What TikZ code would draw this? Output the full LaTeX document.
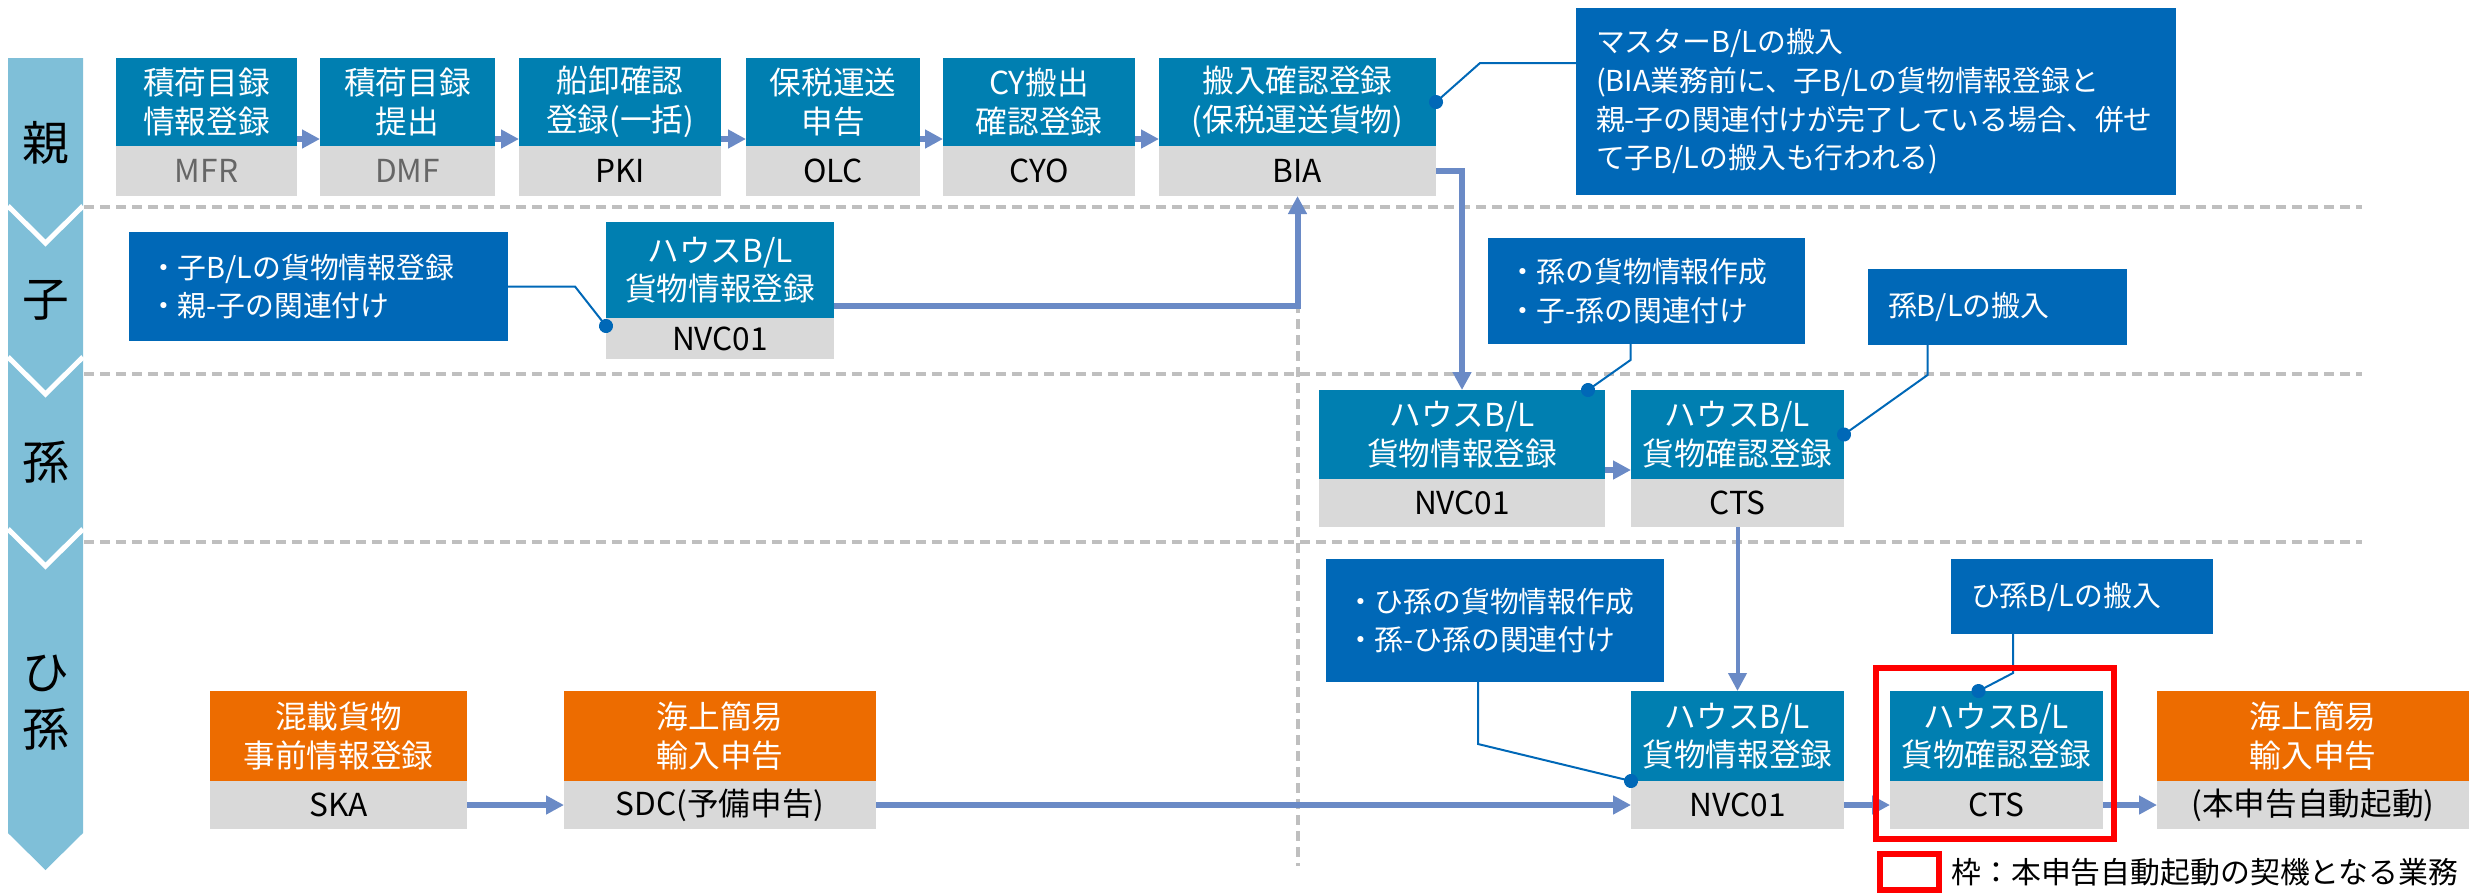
\documentclass[tikz,border=0pt]{standalone}
\usepackage{fontspec}
\setmainfont{Noto Sans CJK JP}
\usetikzlibrary{positioning, arrows.meta}
\exhyphenpenalty=10000
\hyphenpenalty=10000

\definecolor{bizblue}{RGB}{0,127,177}
\definecolor{memoblue}{RGB}{0,104,183}
\definecolor{codegray}{RGB}{217,217,217}
\definecolor{bizorange}{RGB}{237,108,0}
\definecolor{arrblue}{RGB}{106,138,198}
\definecolor{laneblue}{RGB}{127,191,216}
\definecolor{dashgray}{RGB}{191,191,191}

\tikzset{
    biz/.style={anchor=north west, fill=bizblue, text=white, inner sep=0pt, outer sep=0pt,
        align=center, minimum height=8.9mm, font=\fontsize{9}{11}\selectfont},
    ora/.style={biz, fill=bizorange},
    bizcode/.style={fill=codegray, text=black, inner sep=0pt, outer sep=0pt,
        minimum height=4.8mm, font=\fontsize{9}{11}\selectfont},
    memo/.style={anchor=north west, fill=memoblue, text=white, inner xsep=2mm, inner ysep=0pt,
        outer sep=0pt, align=left, font=\fontsize{8.2}{11}\selectfont},
    lane/.style={font=\fontsize{13.3}{16.2}\selectfont, align=center},
    arr/.style={draw=arrblue, line width=0.6mm, -{Triangle[length=1.8mm, width=1.8mm]}},
    lnk/.style={draw=memoblue, line width=0.2mm, -{Circle[length=1.4mm]}, shorten >=-0.7mm},
    lanesep/.style={draw=dashgray, line width=0.4mm, dash pattern=on 1mm off 0.6mm},
    frame/.style={draw=red, line width=0.6mm}
}

\begin{document}
\begin{tikzpicture}[x=0.1mm, y=-0.1mm]
    % 参数：左侧泳道条
    \def\bandL{8}
    \def\bandR{83}
    \def\bandM{45.5}
    \def\vdep{37}

    \useasboundingbox (0,0) rectangle (2481,893);

    % 泳道条
    \fill[laneblue] (\bandL,58) -- (\bandR,58) -- (\bandR,833) -- (\bandM,870) -- (\bandL,833) -- cycle;
    \draw[white, line width=0.5mm] (\bandL,206) -- (\bandM,{206+\vdep}) -- (\bandR,206);
    \draw[white, line width=0.5mm] (\bandL,357) -- (\bandM,{357+\vdep}) -- (\bandR,357);
    \draw[white, line width=0.5mm] (\bandL,529) -- (\bandM,{529+\vdep}) -- (\bandR,529);

    \node[lane] (lane1) at (\bandM,143) {親};
    \node[lane] (lane2) at (\bandM,300) {子};
    \node[lane] (lane3) at (\bandM,462) {孫};
    \node[lane] (lane4) at (\bandM,703) {ひ\\孫};

    % 分隔虚线
    \draw[lanesep] (84,207) -- (2362,207);
    \draw[lanesep] (84,374) -- (2362,374);
    \draw[lanesep] (84,542) -- (2362,542);
    \draw[lanesep] (1298,207) -- (1298,866);

    % 亲
    \node[biz, minimum width=18.1mm, minimum height=8.8mm] (mfr) at (116,58) {積荷目録\\情報登録};
    \node[bizcode, minimum width=18.1mm, minimum height=5mm, below=0pt of mfr, text=black!60] (mfr-c) {MFR};
    \node[biz, minimum width=17.5mm, minimum height=8.8mm] (dmf) at (320,58) {積荷目録\\提出};
    \node[bizcode, minimum width=17.5mm, minimum height=5mm, below=0pt of dmf, text=black!60] (dmf-c) {DMF};
    \node[biz, minimum width=20.2mm, minimum height=8.8mm] (pki) at (519,58) {船卸確認\\登録(一括)};
    \node[bizcode, minimum width=20.2mm, minimum height=5mm, below=0pt of pki] (pki-c) {PKI};
    \node[biz, minimum width=17.4mm, minimum height=8.8mm] (olc) at (746,58) {保税運送\\申告};
    \node[bizcode, minimum width=17.4mm, minimum height=5mm, below=0pt of olc] (olc-c) {OLC};
    \node[biz, minimum width=19.2mm, minimum height=8.8mm] (cyo) at (943,58) {CY搬出\\確認登録};
    \node[bizcode, minimum width=19.2mm, minimum height=5mm, below=0pt of cyo] (cyo-c) {CYO};
    \node[biz, minimum width=27.7mm, minimum height=8.8mm] (bia) at (1159,58) {搬入確認登録\\(保税運送貨物)};
    \node[bizcode, minimum width=27.7mm, minimum height=5mm, below=0pt of bia] (bia-c) {BIA};

    \node[memo, text width=56mm, minimum height=18.7mm] (mastermemo) at (1576,8)
        {マスターB/Lの搬入\\(BIA業務前に、子B/Lの貨物情報登録と\\親-子の関連付けが完了している場合、併せ\\て子B/Lの搬入も行われる)};

    % 子
    \node[memo, text width=33.9mm, minimum height=10.9mm] (komemo) at (129,232)
        {・子B/Lの貨物情報登録\\・親-子の関連付け};
    \node[biz, minimum width=22.8mm, minimum height=9.6mm] (nvc1) at (606,222) {ハウスB/L\\貨物情報登録};
    \node[bizcode, minimum width=22.8mm, minimum height=4.1mm, below=0pt of nvc1] (nvc1-c) {NVC01};

    % 孙
    \node[memo, text width=27.7mm, minimum height=10.6mm] (magomemo) at (1488,238)
        {・孫の貨物情報作成\\・子-孫の関連付け};
    \node[memo, text width=21.9mm, minimum height=7.6mm] (magoin) at (1868,269) {孫B/Lの搬入};
    \node[biz, minimum width=28.6mm] (nvc2) at (1319,390) {ハウスB/L\\貨物情報登録};
    \node[bizcode, minimum width=28.6mm, below=0pt of nvc2] (nvc2-c) {NVC01};
    \node[biz, minimum width=21.3mm] (cts2) at (1631,390) {ハウスB/L\\貨物確認登録};
    \node[bizcode, minimum width=21.3mm, below=0pt of cts2] (cts2-c) {CTS};

    % 曾孙
    \node[memo, text width=29.8mm, minimum height=12.3mm] (himagomemo) at (1326,559)
        {・ひ孫の貨物情報作成\\・孫-ひ孫の関連付け};
    \node[memo, text width=22.2mm, minimum height=7.5mm] (himagoin) at (1951,559) {ひ孫B/Lの搬入};
    \node[ora, minimum width=25.7mm, minimum height=9mm] (ska) at (210,691) {混載貨物\\事前情報登録};
    \node[bizcode, minimum width=25.7mm, below=0pt of ska] (ska-c) {SKA};
    \node[ora, minimum width=31.2mm, minimum height=9mm] (sdc) at (564,691) {海上簡易\\輸入申告};
    \node[bizcode, minimum width=31.2mm, below=0pt of sdc] (sdc-c) {SDC(予備申告)};
    \node[biz, minimum width=21.3mm, minimum height=9mm] (nvc3) at (1631,691) {ハウスB/L\\貨物情報登録};
    \node[bizcode, minimum width=21.3mm, below=0pt of nvc3] (nvc3-c) {NVC01};
    \node[biz, minimum width=21.3mm, minimum height=9mm] (cts3) at (1890,691) {ハウスB/L\\貨物確認登録};
    \node[bizcode, minimum width=21.3mm, below=0pt of cts3] (cts3-c) {CTS};
    \node[ora, minimum width=31.2mm, minimum height=9mm] (shin) at (2157,691) {海上簡易\\輸入申告};
    \node[bizcode, minimum width=31.2mm, below=0pt of shin] (shin-c) {(本申告自動起動)};

    % 箭头
    \draw[arr] ([yshift=0.7mm]mfr.south east) -- ([yshift=0.7mm]dmf.south west);
    \draw[arr] ([yshift=0.7mm]dmf.south east) -- ([yshift=0.7mm]pki.south west);
    \draw[arr] ([yshift=0.7mm]pki.south east) -- ([yshift=0.7mm]olc.south west);
    \draw[arr] ([yshift=0.7mm]olc.south east) -- ([yshift=0.7mm]cyo.south west);
    \draw[arr] ([yshift=0.7mm]cyo.south east) -- ([yshift=0.7mm]bia.south west);
    \draw[arr] ([yshift=1.2mm]nvc1.south east) -| (bia-c.south);
    \draw[arr] (bia-c.east) -| (nvc2.north);
    \draw[arr] ([yshift=0.9mm]nvc2.south east) -- ([yshift=0.9mm]cts2.south west);
    \draw[arr, line width=0.4mm] (cts2-c.south) -- (nvc3.north);
    \draw[arr] (ska-c.east) -- (sdc-c.west);
    \draw[arr] (sdc-c.east) -- (nvc3-c.west);
    \draw[arr] (nvc3-c.east) -- (cts3-c.west);
    \draw[arr] (cts3-c.east) -- (shin-c.west);

    % 说明框连线
    \draw[lnk] ([yshift=-5.5mm]mastermemo.north west) -- ++(-96,0) -- (bia.east);
    \draw[lnk] (komemo.east) -- ++(67,0) -- ([yshift=-0.8mm]nvc1.south west);
    \draw[lnk] ([xshift=-1.6mm]magomemo.south) -- ++(0,16) -- ([xshift=-1.7mm]nvc2.north east);
    \draw[lnk] ([xshift=-7mm]magoin.south) -- ++(0,30) -- (cts2.east);
    \draw[lnk] ([xshift=-1.7mm]himagomemo.south) -- ++(0,62) -- (nvc3.south west);
    \draw[lnk] ([xshift=-6.9mm]himagoin.south) -- ++(0,39) -- ([xshift=-1.8mm]cts3.north);

    % 红框与图例
    \draw[frame] ([shift={(-1.4mm,2.3mm)}]cts3.north west) rectangle ([shift={(1.1mm,-1mm)}]cts3-c.south east);
    \node[draw=red, line width=0.6mm, minimum width=5.9mm, minimum height=3.6mm, inner sep=0pt,
        outer sep=0pt, anchor=north west] (lgbox) at (1880,854) {};
    \node[right=0pt of lgbox, font=\fontsize{8.5}{10}\selectfont] (lgtext) {枠：本申告自動起動の契機となる業務};
\end{tikzpicture}
\end{document}
